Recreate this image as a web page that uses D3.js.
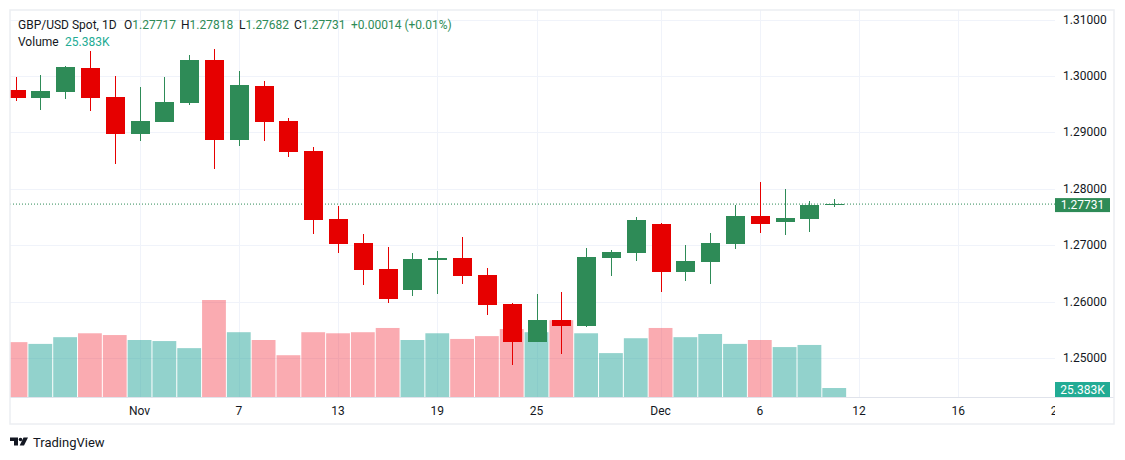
<!DOCTYPE html>
<html>
<head>
<meta charset="utf-8">
<script src="https://cdn.jsdelivr.net/npm/d3@7"></script>
<style>
  body { margin: 0; background: #ffffff; }
  svg text { font-family: Roboto, "Open Sans", sans-serif; }
</style>
</head>
<body>
<div id="chart"></div>
<script>
var width = 1125;
var height = 460;

// daily bars, Oct 25 -> Dec 11 (weekdays only)
var dates = ["Oct 25","Oct 28","Oct 29","Oct 30","Oct 31","Nov 1","Nov 4","Nov 5","Nov 6","Nov 7",
             "Nov 8","Nov 11","Nov 12","Nov 13","Nov 14","Nov 15","Nov 18","Nov 19","Nov 20","Nov 21",
             "Nov 22","Nov 25","Nov 26","Nov 27","Nov 28","Nov 29","Dec 2","Dec 3","Dec 4","Dec 5",
             "Dec 6","Dec 9","Dec 10","Dec 11"];
var opens  = [1.29751,1.29615,1.29716,1.30141,1.29627,1.28978,1.29190,1.29527,1.30283,1.28871,
              1.29822,1.29202,1.28671,1.27467,1.27042,1.26582,1.26215,1.26746,1.26777,1.26475,
              1.25962,1.25294,1.25678,1.25577,1.26782,1.26870,1.27378,1.26534,1.26711,1.27030,
              1.27520,1.27419,1.27472,1.27717];
var highs  = [1.29987,1.30022,1.30182,1.30442,1.30005,1.29810,1.29987,1.30371,1.30478,1.30088,
              1.29911,1.29256,1.28742,1.27697,1.27201,1.26971,1.26865,1.26900,1.27148,1.26599,
              1.25980,1.26139,1.26174,1.26954,1.26918,1.27502,1.27390,1.27007,1.27219,1.27715,
              1.28122,1.27998,1.27786,1.27818];
var lows   = [1.29562,1.29397,1.29597,1.29385,1.28446,1.28854,1.29180,1.29491,1.28358,1.28760,
              1.28854,1.28570,1.27207,1.26870,1.26304,1.25985,1.26109,1.26144,1.26321,1.25772,
              1.24887,1.25280,1.25082,1.25560,1.26463,1.26729,1.26180,1.26374,1.26321,1.26941,
              1.27225,1.27189,1.27242,1.27682];
var closes = [1.29615,1.29734,1.30164,1.29615,1.28978,1.29208,1.29539,1.30283,1.28871,1.29845,
              1.29190,1.28659,1.27455,1.27029,1.26569,1.26056,1.26759,1.26777,1.26463,1.25949,
              1.25294,1.25678,1.25577,1.26794,1.26883,1.27449,1.26534,1.26723,1.27042,1.27520,
              1.27384,1.27485,1.27717,1.27731];
// volume in thousands
var volumes = [155,150,169,180,175,161,158,138,274,183,
               161,118,183,180,183,195,161,180,164,172,
               192,183,217,180,124,166,195,169,178,150,
               161,141,147,25.383];

var priceTicks = [1.25,1.26,1.27,1.28,1.29,1.30,1.31];
// bar index of each time label (the last ones run on calendar days past the data)
var timeTickIndex = [5,9,13,17,21,26,30,34,38,42];
var timeTickLabels = ["Nov","7","13","19","25","Dec","6","12","16","20"];

var upColor = "#2e8b57";
var downColor = "#e60000";
var upVol = "rgba(38,166,154,0.5)";
var downVol = "rgba(242,54,69,0.42)";
var gridColor = "#f0f3fa";
var textColor = "#131722";

var plotLeft = 10, plotRight = 1055, plotTop = 10, plotBottom = 397;

var svg = d3.select("#chart")
            .append("svg")
            .attr("width", width)
            .attr("height", height);

var x = d3.scaleLinear().domain([0, 42]).range([15.5, 15.5 + 42 * 24.81]);
var step = x(1) - x(0);
var y = d3.scaleLinear().domain([1.25, 1.31]).range([358.3, 19.5]);
var yVol = d3.scaleLinear().domain([0, d3.max(volumes)]).range([plotBottom, 300]);

svg.append("defs").append("clipPath")
    .attr("id", "plotClip")
    .append("rect")
    .attr("x", plotLeft).attr("y", plotTop)
    .attr("width", plotRight - plotLeft).attr("height", plotBottom - plotTop);

var plot = svg.append("g").attr("clip-path", "url(#plotClip)");

// grid
plot.append("g")
    .selectAll("line")
    .data(priceTicks)
    .enter()
    .append("line")
    .attr("x1", plotLeft).attr("x2", plotRight)
    .attr("y1", function(d) { return Math.round(y(d)) + 0.5; })
    .attr("y2", function(d) { return Math.round(y(d)) + 0.5; })
    .attr("stroke", gridColor);

plot.append("g")
    .selectAll("line")
    .data(timeTickIndex)
    .enter()
    .append("line")
    .attr("x1", function(d) { return Math.round(x(d)) + 0.5; })
    .attr("x2", function(d) { return Math.round(x(d)) + 0.5; })
    .attr("y1", plotTop).attr("y2", plotBottom)
    .attr("stroke", gridColor);

// volume
plot.append("g")
    .selectAll("rect")
    .data(volumes)
    .enter()
    .append("rect")
    .attr("x", function(d, i) { return x(i) - (step - 1) / 2; })
    .attr("width", step - 1)
    .attr("y", function(d) { return yVol(d); })
    .attr("height", function(d) { return plotBottom - yVol(d); })
    .attr("fill", function(d, i) { return closes[i] >= opens[i] ? upVol : downVol; });

// last price line
plot.append("line")
    .attr("x1", plotLeft).attr("x2", plotRight)
    .attr("y1", y(closes[closes.length - 1]))
    .attr("y2", y(closes[closes.length - 1]))
    .attr("stroke", upColor)
    .attr("stroke-width", 1)
    .attr("stroke-dasharray", "1,2");

// candles
var candles = plot.append("g")
    .selectAll("g")
    .data(d3.range(opens.length))
    .enter()
    .append("g")
    .attr("shape-rendering", "crispEdges");

candles.append("rect")
    .attr("x", function(i) { return Math.round(x(i)) - 0.5; })
    .attr("width", 1)
    .attr("y", function(i) { return y(highs[i]); })
    .attr("height", function(i) { return y(lows[i]) - y(highs[i]); })
    .attr("fill", function(i) { return closes[i] >= opens[i] ? upColor : downColor; });

candles.append("rect")
    .attr("x", function(i) { return Math.round(x(i)) - 9.5; })
    .attr("width", 19)
    .attr("y", function(i) { return y(Math.max(opens[i], closes[i])); })
    .attr("height", function(i) { return Math.max(1, Math.abs(y(opens[i]) - y(closes[i]))); })
    .attr("fill", function(i) { return closes[i] >= opens[i] ? upColor : downColor; });

// time axis
svg.append("line")
    .attr("x1", plotLeft).attr("x2", 1114)
    .attr("y1", plotBottom + 0.5).attr("y2", plotBottom + 0.5)
    .attr("stroke", "#e0e3eb");

svg.append("defs").append("clipPath")
    .attr("id", "timeClip")
    .append("rect")
    .attr("x", plotLeft).attr("y", plotBottom)
    .attr("width", plotRight - plotLeft).attr("height", 30);

svg.append("g")
    .attr("clip-path", "url(#timeClip)")
    .selectAll("text")
    .data(timeTickIndex)
    .enter()
    .append("text")
    .attr("x", function(d) { return x(d); })
    .attr("y", 411)
    .attr("text-anchor", "middle")
    .attr("dominant-baseline", "central")
    .attr("font-size", 12)
    .attr("fill", textColor)
    .text(function(d, i) { return timeTickLabels[i]; });

// price axis
svg.append("g")
    .selectAll("text")
    .data(priceTicks)
    .enter()
    .append("text")
    .attr("x", 1063)
    .attr("y", function(d) { return y(d); })
    .attr("dominant-baseline", "central")
    .attr("font-size", 12)
    .attr("fill", textColor)
    .text(function(d) { return d.toFixed(5); });

var lastClose = closes[closes.length - 1];
var lastVol = volumes[volumes.length - 1];

svg.append("rect")
    .attr("x", 1055).attr("width", 55)
    .attr("y", y(lastClose) - 6).attr("height", 14)
    .attr("fill", upColor);
svg.append("text")
    .attr("x", 1082.5).attr("y", y(lastClose) + 1)
    .attr("text-anchor", "middle")
    .attr("dominant-baseline", "central")
    .attr("font-size", 12)
    .attr("fill", "#ffffff")
    .text(lastClose.toFixed(5));

svg.append("rect")
    .attr("x", 1055).attr("width", 55)
    .attr("y", yVol(lastVol) - 6).attr("height", 15)
    .attr("fill", "#22ab94");
svg.append("text")
    .attr("x", 1082.5).attr("y", yVol(lastVol) + 1.5)
    .attr("text-anchor", "middle")
    .attr("dominant-baseline", "central")
    .attr("font-size", 12)
    .attr("fill", "#ffffff")
    .text(lastVol.toFixed(3) + "K");

// frame
svg.append("rect")
    .attr("x", 10).attr("y", 10)
    .attr("width", 1104).attr("height", 414)
    .attr("fill", "none")
    .attr("stroke", "#eceef2")
    .attr("stroke-width", 1.5);

// legend
var n = closes.length - 1;
var change = closes[n] - closes[n - 1];
var pct = change / closes[n - 1] * 100;
var sign = change >= 0 ? "+" : "-";

var legend = svg.append("g")
    .attr("font-size", 12)
    .attr("dominant-baseline", "central");

legend.append("text").attr("x", 18).attr("y", 25).attr("fill", textColor).text("GBP/USD Spot, 1D");

var ohlc = [["O", opens[n]], ["H", highs[n]], ["L", lows[n]], ["C", closes[n]]];
var ohlcX = [124, 181, 239, 294];
ohlc.forEach(function(d, i) {
    var t = legend.append("text").attr("x", ohlcX[i]).attr("y", 25);
    t.append("tspan").attr("fill", textColor).text(d[0]);
    t.append("tspan").attr("fill", upColor).text(d[1].toFixed(5));
});

legend.append("text").attr("x", 351).attr("y", 25).attr("fill", upColor)
    .text(sign + Math.abs(change).toFixed(5) + " (" + sign + Math.abs(pct).toFixed(2) + "%)");

legend.append("text").attr("x", 18).attr("y", 42).attr("fill", textColor).text("Volume");
legend.append("text").attr("x", 65).attr("y", 42).attr("fill", "#22ab94").text(lastVol.toFixed(3) + "K");

// TradingView mark
var logo = svg.append("g").attr("fill", textColor);
logo.append("path").attr("d", "M10 437.5h8v8h-4v-4.5h-4z");
logo.append("circle").attr("cx", 20.5).attr("cy", 439.5).attr("r", 1.8);
logo.append("path").attr("d", "M23.5 437.5h4.5l-4 8h-4.3z");
svg.append("text")
    .attr("x", 33).attr("y", 442)
    .attr("dominant-baseline", "central")
    .attr("font-size", 13)
    .attr("fill", textColor)
    .text("TradingView");
</script>
</body>
</html>
